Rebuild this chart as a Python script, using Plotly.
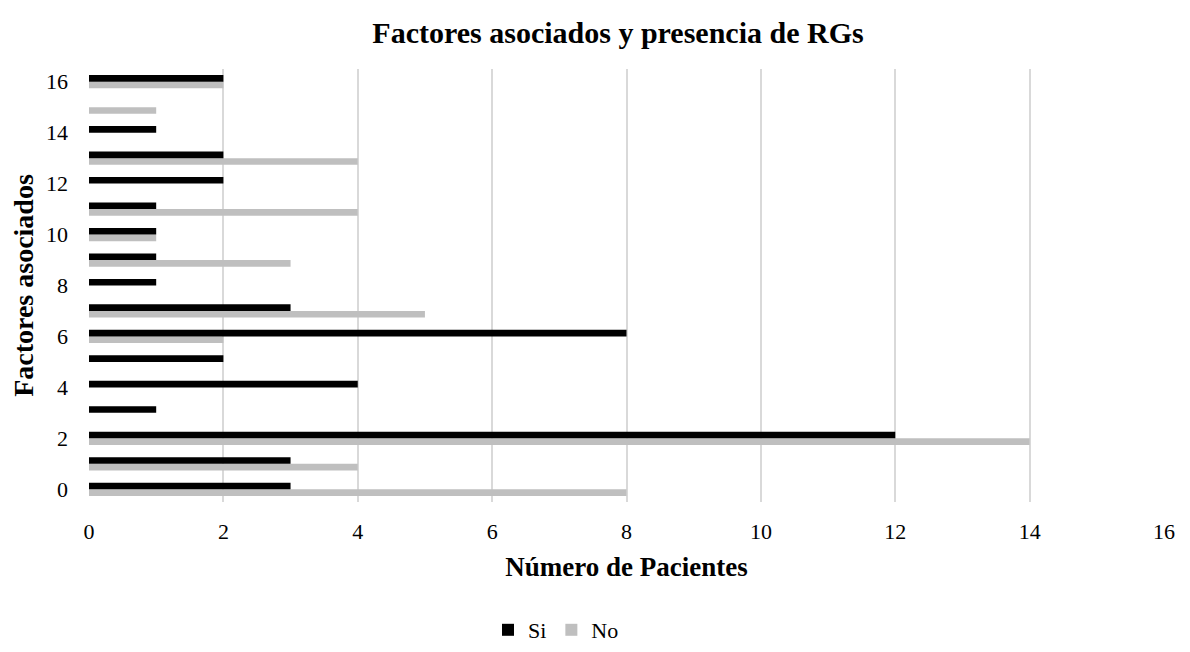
import plotly.graph_objects as go

factores = list(range(17))
si = [3, 3, 12, 1, 4, 2, 8, 3, 1, 1, 1, 1, 2, 2, 1, 0, 2]
no = [8, 4, 14, 0, 0, 0, 2, 5, 0, 3, 1, 4, 0, 4, 0, 1, 2]
x_ticks = list(range(0, 17, 2))
y_ticks = list(range(0, 17, 2))

FONT = "Liberation Serif"
# The page body has an 8px default margin, so the figure is drawn 8px smaller
W, H = 1182, 644
L, R, T, B = 81, 26, 61, 150

fig = go.Figure()
fig.add_trace(go.Bar(y=factores, x=no, orientation="h", name="No",
                     marker=dict(color="#bfbfbf", line=dict(width=0)), legendrank=2))
fig.add_trace(go.Bar(y=factores, x=si, orientation="h", name="Si",
                     marker=dict(color="#000000", line=dict(width=0)), legendrank=1))

fig.update_layout(
    width=W, height=H,
    paper_bgcolor="white", plot_bgcolor="white",
    font=dict(family=FONT, color="#000000", size=22),
    title=dict(text="<b>Factores asociados y presencia de RGs</b>", x=(618 - 8 - L) / (W - L - R),
               xanchor="center", xref="paper", y=1 - 24 / H, yref="container", yanchor="middle",
               font=dict(size=30, family=FONT)),
    barmode="group", bargap=0.48, bargroupgap=0,
    margin=dict(l=L, r=R, t=T, b=B, autoexpand=False),
    showlegend=True,
    legend=dict(orientation="h", x=(556 - 8 - L) / (W - L - R), xanchor="center",
                y=-(630 - 8 - (H - B)) / (H - T - B), yanchor="middle",
                font=dict(size=22, family=FONT), itemwidth=30, traceorder="normal"),
    xaxis=dict(range=[0, 16], tickvals=x_ticks, showgrid=True, gridcolor="#d9d9d9", gridwidth=1.5,
               zeroline=False, showline=False, ticks="", tickfont=dict(size=22),
               ticklabelstandoff=14, automargin=False,
               title=dict(text="<b>Número de Pacientes</b>", font=dict(size=27), standoff=14)),
    yaxis=dict(range=[-0.5, 16.5], tickvals=y_ticks, showgrid=False, zeroline=False,
               showline=False, ticks="", tickfont=dict(size=22), ticklabelstandoff=20,
               automargin=False,
               title=dict(text="<b>Factores asociados</b>", font=dict(size=28), standoff=12)),
)

fig.write_html("out.html")
